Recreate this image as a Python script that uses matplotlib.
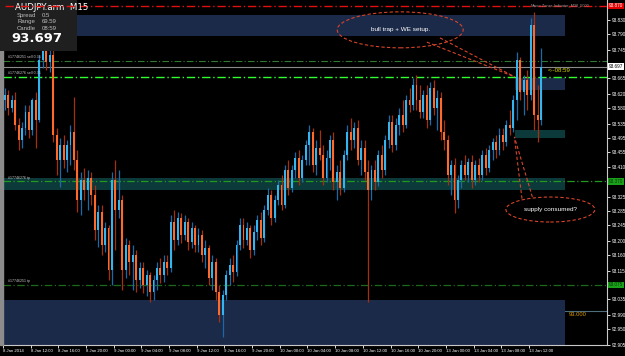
import matplotlib
matplotlib.use("Agg")
import matplotlib.pyplot as plt
from matplotlib.patches import Rectangle, Ellipse
import numpy as np

W, H = 625, 356

# ---------------- data (AUDJPY.arm, 30-min resampled candles) -------------
opens = [93.602, 93.616, 93.579, 93.602, 93.531, 93.488, 93.522, 93.568, 93.517, 93.602,
         93.545, 93.716, 93.750, 93.710, 93.730, 93.502, 93.431, 93.474, 93.431, 93.474,
         93.511, 93.431, 93.317, 93.374, 93.346, 93.380, 93.332, 93.232, 93.283, 93.189,
         93.238, 93.118, 93.374, 93.289, 93.317, 93.118, 93.189, 93.141, 93.161, 93.090,
         93.124, 93.075, 93.104, 93.055, 93.090, 93.124, 93.104, 93.141, 93.124, 93.255,
         93.203, 93.266, 93.218, 93.255, 93.198, 93.238, 93.189, 93.218, 93.161, 93.181,
         93.095, 93.141, 93.055, 92.990, 93.047, 93.104, 93.132, 93.112, 93.189, 93.246,
         93.203, 93.238, 93.175, 93.226, 93.260, 93.209, 93.289, 93.332, 93.266, 93.317,
         93.360, 93.303, 93.403, 93.352, 93.403, 93.437, 93.380, 93.431, 93.474, 93.511,
         93.417, 93.465, 93.446, 93.380, 93.437, 93.488, 93.369, 93.397, 93.352, 93.446,
         93.511, 93.488, 93.522, 93.431, 93.465, 93.397, 93.346, 93.403, 93.369, 93.446,
         93.403, 93.488, 93.540, 93.474, 93.531, 93.559, 93.531, 93.602, 93.588, 93.645,
         93.602, 93.568, 93.616, 93.545, 93.636, 93.579, 93.608, 93.511, 93.488, 93.389,
         93.417, 93.317, 93.374, 93.417, 93.389, 93.426, 93.374, 93.417, 93.389, 93.446,
         93.409, 93.460, 93.483, 93.460, 93.502, 93.483, 93.531, 93.522, 93.602, 93.716,
         93.625, 93.659, 93.616, 93.816, 93.559, 93.545]
highs = [93.636, 93.631, 93.616, 93.625, 93.551, 93.540, 93.588, 93.588, 93.608, 93.625,
         93.730, 93.773, 93.779, 93.759, 93.745, 93.522, 93.494, 93.502, 93.488, 93.531,
         93.611, 93.460, 93.397, 93.409, 93.403, 93.397, 93.360, 93.303, 93.303, 93.255,
         93.246, 93.397, 93.431, 93.403, 93.332, 93.209, 93.203, 93.189, 93.175, 93.141,
         93.141, 93.118, 93.112, 93.104, 93.141, 93.152, 93.161, 93.161, 93.275, 93.289,
         93.283, 93.280, 93.275, 93.266, 93.255, 93.246, 93.238, 93.232, 93.203, 93.189,
         93.161, 93.152, 93.075, 93.061, 93.118, 93.152, 93.161, 93.203, 93.266, 93.266,
         93.255, 93.246, 93.246, 93.275, 93.283, 93.303, 93.352, 93.346, 93.332, 93.374,
         93.389, 93.417, 93.431, 93.417, 93.454, 93.460, 93.446, 93.488, 93.531, 93.522,
         93.488, 93.517, 93.474, 93.460, 93.502, 93.511, 93.417, 93.431, 93.460, 93.531,
         93.551, 93.540, 93.545, 93.488, 93.488, 93.431, 93.417, 93.431, 93.460, 93.474,
         93.502, 93.559, 93.559, 93.551, 93.579, 93.602, 93.616, 93.636, 93.665, 93.673,
         93.645, 93.631, 93.645, 93.653, 93.659, 93.631, 93.625, 93.545, 93.502, 93.431,
         93.437, 93.389, 93.431, 93.446, 93.437, 93.446, 93.431, 93.437, 93.460, 93.465,
         93.474, 93.494, 93.502, 93.522, 93.522, 93.545, 93.574, 93.616, 93.739, 93.725,
         93.673, 93.688, 93.836, 93.853, 93.645, 93.750]
lows = [93.574, 93.559, 93.568, 93.517, 93.460, 93.465, 93.502, 93.494, 93.502, 93.465,
        93.540, 93.693, 93.688, 93.682, 93.483, 93.389, 93.354, 93.409, 93.397, 93.417,
        93.403, 93.283, 93.275, 93.317, 93.289, 93.303, 93.203, 93.184, 93.161, 93.169,
        93.090, 93.075, 93.175, 93.266, 93.061, 93.095, 93.104, 93.061, 93.055, 93.067,
        93.053, 93.044, 93.027, 93.033, 93.061, 93.081, 93.084, 93.104, 93.112, 93.175,
        93.189, 93.195, 93.203, 93.175, 93.181, 93.169, 93.169, 93.141, 93.124, 93.075,
        93.061, 93.033, 92.970, 92.927, 93.033, 93.075, 93.084, 93.101, 93.175, 93.181,
        93.189, 93.152, 93.161, 93.203, 93.189, 93.198, 93.275, 93.246, 93.255, 93.303,
        93.289, 93.295, 93.332, 93.340, 93.380, 93.360, 93.369, 93.417, 93.417, 93.397,
        93.389, 93.431, 93.360, 93.369, 93.403, 93.346, 93.317, 93.332, 93.340, 93.431,
        93.460, 93.465, 93.417, 93.389, 93.374, 93.027, 93.317, 93.346, 93.357, 93.380,
        93.389, 93.465, 93.454, 93.460, 93.502, 93.511, 93.522, 93.568, 93.574, 93.574,
        93.551, 93.551, 93.522, 93.531, 93.559, 93.517, 93.488, 93.460, 93.360, 93.332,
        93.280, 93.295, 93.352, 93.374, 93.369, 93.352, 93.360, 93.369, 93.374, 93.389,
        93.397, 93.431, 93.437, 93.446, 93.460, 93.471, 93.502, 93.511, 93.545, 93.602,
        93.559, 93.574, 93.602, 93.517, 93.483, 93.531]
closes = [93.616, 93.579, 93.602, 93.531, 93.488, 93.522, 93.568, 93.517, 93.602, 93.545,
          93.716, 93.750, 93.710, 93.730, 93.502, 93.431, 93.474, 93.431, 93.474, 93.511,
          93.431, 93.317, 93.374, 93.346, 93.380, 93.332, 93.232, 93.283, 93.189, 93.238,
          93.118, 93.374, 93.289, 93.317, 93.118, 93.189, 93.141, 93.161, 93.090, 93.124,
          93.075, 93.104, 93.055, 93.090, 93.124, 93.104, 93.141, 93.124, 93.255, 93.203,
          93.266, 93.218, 93.255, 93.198, 93.238, 93.189, 93.218, 93.161, 93.181, 93.095,
          93.141, 93.055, 92.990, 93.047, 93.104, 93.132, 93.112, 93.189, 93.246, 93.203,
          93.238, 93.175, 93.226, 93.260, 93.209, 93.289, 93.332, 93.266, 93.317, 93.360,
          93.303, 93.403, 93.352, 93.403, 93.437, 93.380, 93.431, 93.474, 93.511, 93.417,
          93.465, 93.446, 93.380, 93.437, 93.488, 93.369, 93.397, 93.352, 93.446, 93.511,
          93.488, 93.522, 93.431, 93.465, 93.397, 93.346, 93.403, 93.369, 93.446, 93.403,
          93.488, 93.540, 93.474, 93.531, 93.559, 93.531, 93.602, 93.588, 93.645, 93.602,
          93.568, 93.616, 93.545, 93.636, 93.579, 93.608, 93.511, 93.488, 93.389, 93.417,
          93.317, 93.374, 93.417, 93.389, 93.426, 93.374, 93.417, 93.389, 93.446, 93.409,
          93.460, 93.483, 93.460, 93.502, 93.483, 93.531, 93.522, 93.602, 93.716, 93.625,
          93.659, 93.616, 93.816, 93.559, 93.545, 93.697]

time_tick_bars = [0, 8, 16, 24, 32, 40, 48, 56, 64, 72, 80, 88, 96, 104, 112, 120, 128, 136, 144, 152]
time_labels = ["8 Jan 2014", "8 Jan 12:00", "8 Jan 16:00", "8 Jan 20:00", "9 Jan 00:00",
               "9 Jan 04:00", "9 Jan 08:00", "9 Jan 12:00", "9 Jan 16:00", "9 Jan 20:00",
               "10 Jan 00:00", "10 Jan 04:00", "10 Jan 08:00", "10 Jan 12:00", "10 Jan 16:00",
               "10 Jan 20:00", "13 Jan 00:00", "13 Jan 04:00", "13 Jan 08:00", "13 Jan 12:00"]
price_ticks = [92.905, 92.950, 92.990, 93.035, 93.115, 93.160, 93.200, 93.245, 93.285,
               93.325, 93.410, 93.455, 93.495, 93.535, 93.580, 93.620, 93.665, 93.745,
               93.790, 93.830]

symbol = "AUDJPY.arm"
timeframe = "M15"
spread = "0.5"
range_pips = "69.59"
candle_left = "08:59"
bid = 93.697
alert_level = 93.870
order_lines = [93.713, 93.669, 93.370, 93.075]
order_labels = ["#17746251 sell 0.35", "#17746276 sell 0.35", "#17746276 tp", "#17746251 tp"]
round_level = 93.000

# zones: (x_start_bar, x_end_bar, low, high, color)
zones = [(-0.5, 161.9, 93.784, 93.844, "#1b2a49"),
         (147.5, 161.9, 93.631, 93.665, "#1b2a49"),
         (147.5, 161.9, 93.494, 93.517, "#0c3a3a"),
         (-0.5, 161.9, 93.346, 93.380, "#0c3a3a"),
         (-0.5, 161.9, 92.903, 93.033, "#1b2a49")]

# ---------------- figure ----------------
plt.rcParams["font.family"] = ["Liberation Sans", "DejaVu Sans"]
fig = plt.figure(figsize=(W / 100, H / 100), dpi=100, facecolor="black")
ax = fig.add_axes([3 / W, 11 / H, 604 / W, 345 / H])
ax.set_facecolor("black")
ax.set_xlim(-0.49, 174.07)
ax.set_ylim(92.904, 93.887)

for x0, x1, lo, hi, col in zones:
    ax.add_patch(Rectangle((x0, lo), x1 - x0, hi - lo, facecolor=col, edgecolor="none", zorder=0.5))

o = np.array(opens); h = np.array(highs); l = np.array(lows); c = np.array(closes)
x = np.arange(len(c))
up = c >= o
dn = ~up
ax.vlines(x[up], l[up], h[up], color="#1d68a8", lw=0.9, zorder=2)
ax.vlines(x[dn], l[dn], h[dn], color="#a5300f", lw=0.9, zorder=2)
ax.bar(x[up], np.maximum(c - o, 0.002)[up], bottom=o[up], width=0.55, color="#35b5f0", linewidth=0, zorder=2.1)
ax.bar(x[dn], np.minimum(c - o, -0.002)[dn], bottom=o[dn], width=0.55, color="#ff6a2a", linewidth=0, zorder=2.1)

# horizontal lines
ax.axhline(alert_level, color="#e01010", lw=1.0, ls=(0, (6, 2, 1, 2)), zorder=6)
ax.axhline(bid, color="#8a8a8a", lw=0.8, zorder=1)
line_styles = [("#2f7a2f", 0.8), ("#30ff30", 1.0), ("#1f9a1f", 0.9), ("#1a6a1a", 0.9)]
for lvl, (col, lw) in zip(order_lines, line_styles):
    ax.axhline(lvl, color=col, lw=lw, ls=(0, (6, 2, 1, 2)), zorder=1.5)
for lvl, lab in zip(order_lines, order_labels):
    ax.text(1.0, lvl + 0.005, lab, color="#c8c8c8", fontsize=2.6, va="bottom", ha="left", zorder=3)

# round-number marker at right
ax.plot([161.9, 174.07], [round_level, round_level], color="#4d6e7a", lw=0.8, zorder=1, clip_on=False)
ax.text(163.0, round_level - 0.002, "93.000", color="#d99a00", fontsize=4.2, va="top", ha="left")

# annotations (ellipses with callout tails)
ell_col = "#d8442a"
ax.add_patch(Ellipse((114.3, 93.802), 36.4, 0.1025, fill=False, edgecolor=ell_col, lw=0.8,
                     ls=(0, (3, 2)), zorder=4))
ax.text(114.3, 93.802, "bull trap + WE setup.", color="white", fontsize=4.6, ha="center", va="center", zorder=4)
ax.plot([122.0, 147.4], [93.767, 93.668], color=ell_col, lw=0.8, ls=(0, (3, 2)), zorder=4)
ax.plot([125.8, 147.4], [93.779, 93.668], color=ell_col, lw=0.8, ls=(0, (3, 2)), zorder=4)

ax.add_patch(Ellipse((157.7, 93.290), 25.7, 0.0712, fill=False, edgecolor=ell_col, lw=0.8,
                     ls=(0, (3, 2)), zorder=4))
ax.text(157.7, 93.290, "supply consumed?", color="white", fontsize=4.6, ha="center", va="center", zorder=4)
ax.plot([149.5, 147.3], [93.321, 93.497], color=ell_col, lw=0.8, ls=(0, (3, 2)), zorder=4)
ax.plot([152.5, 147.3], [93.326, 93.497], color=ell_col, lw=0.8, ls=(0, (3, 2)), zorder=4)

ax.text(157.0, 93.685, "<--" + candle_left, color="#d8d800", fontsize=4.4, ha="left", va="center", zorder=4)

# axes styling
for s in ["top", "left"]:
    ax.spines[s].set_visible(False)
ax.spines["right"].set_color("#c8c8c8")
ax.spines["bottom"].set_color("#c8c8c8")
ax.spines["right"].set_linewidth(0.8)
ax.spines["bottom"].set_linewidth(0.8)
ax.yaxis.tick_right()
ax.set_yticks(price_ticks)
ax.set_yticklabels([f"{v:.3f}" for v in price_ticks])
ax.tick_params(axis="y", colors="white", labelsize=3.3, length=2, width=0.6, pad=1.5)
ax.set_xticks([b - 0.5 for b in time_tick_bars])
ax.set_xticklabels(time_labels, ha="left")
ax.tick_params(axis="x", colors="white", labelsize=3.1, length=2.5, width=0.6, pad=0.5)
for lab in ax.get_xticklabels():
    lab.set_horizontalalignment("left")

# price boxes on the right scale
def price_box(val, txt, fc, tc):
    ax.text(174.6, val, txt, fontsize=3.3, color=tc, ha="left", va="center", clip_on=False, zorder=7,
            bbox=dict(boxstyle="square,pad=0.15", fc=fc, ec="none"))

price_box(alert_level, f"{alert_level:.3f}", "#e00000", "white")
price_box(bid, f"{bid:.3f}", "white", "black")
price_box(order_lines[2], f"{order_lines[2]:.3f}", "#1aa01a", "#0a3a0a")
price_box(order_lines[3], f"{order_lines[3]:.3f}", "#1aa01a", "#0a3a0a")

# figure-level decorations: left border strip, info panel
fig.add_artist(Rectangle((0, 11 / H), 3 / W, 345 / H, transform=fig.transFigure, color="#8c8c8c", zorder=1))
fig.add_artist(Rectangle((0, 1 - 51 / H), 77 / W, 51 / H, transform=fig.transFigure,
                         facecolor="#1f1f1f", edgecolor="none", zorder=5))
fig.text(15 / W, 1 - 8 / H, f"{symbol}  {timeframe}", color="white", fontsize=6.2, va="center", ha="left", zorder=6,
         family="DejaVu Sans")
for i, (k, v) in enumerate([("Spread", spread), ("Range", range_pips), ("Candle", candle_left)]):
    y = 15.5 + i * 6.3
    fig.text(17 / W, 1 - y / H, k, color="#bdbdbd", fontsize=4.3, va="center", ha="left", zorder=6)
    fig.text(42 / W, 1 - y / H, v, color="#bdbdbd", fontsize=4.3, va="center", ha="left", zorder=6)
fig.text(11 / W, 1 - 38.5 / H, f"{bid:.3f}", color="white", fontsize=9.5, fontweight="bold",
         va="center", ha="left", zorder=6, family="DejaVu Sans")
# redraw alert line over the info panel
fig.add_artist(plt.Line2D([5 / W, 77 / W], [1 - 5.6 / H, 1 - 5.6 / H], transform=fig.transFigure,
                          color="#e01010", lw=1.0, ls=(0, (6, 2, 1, 2)), zorder=7))
fig.text(531 / W, 1 - 5 / H, "Macro-Zones-Indicator_M30_5000", color="#9a9a9a", fontsize=2.8,
         va="center", ha="left", zorder=6)

fig.savefig("out.png", dpi=100, facecolor="black")
